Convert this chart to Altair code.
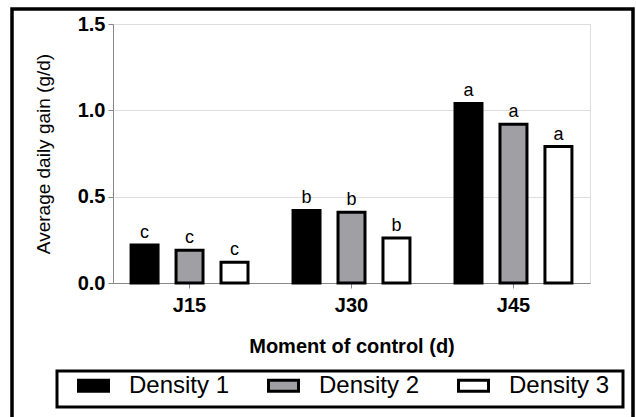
import altair as alt
import pandas as pd

moments = ["J15", "J30", "J45"]
densities = ["Density 1", "Density 2", "Density 3"]
density1 = [0.22, 0.42, 1.04]
density2 = [0.19, 0.41, 0.92]
density3 = [0.12, 0.26, 0.79]
letters1 = ["c", "b", "a"]
letters2 = ["c", "b", "a"]
letters3 = ["c", "b", "a"]
colors = ["#000000", "#a0a0a4", "#ffffff"]

rows = []
for vals, lets, d in [(density1, letters1, densities[0]),
                      (density2, letters2, densities[1]),
                      (density3, letters3, densities[2])]:
    for m, v, l in zip(moments, vals, lets):
        rows.append({"Moment": m, "Density": d, "Gain": v, "Letter": l})
df = pd.DataFrame(rows)

FONT = "Liberation Sans"

x_enc = alt.X("Moment:N", sort=moments,
              scale=alt.Scale(paddingInner=0.167, paddingOuter=0.056),
              axis=alt.Axis(title="Moment of control (d)", labelAngle=0,
                            labelFontSize=20, labelFontWeight="bold",
                            labelPadding=7,
                            titleFontSize=20, titleFontWeight="bold",
                            titleBaseline="alphabetic", titleY=69))
xoff_enc = alt.XOffset("Density:N", sort=densities,
                       scale=alt.Scale(paddingInner=0.4, paddingOuter=0.2))
y_enc = alt.Y("Gain:Q",
              scale=alt.Scale(domain=[0, 1.5], nice=False),
              axis=alt.Axis(title="Average daily gain (g/d)", values=[0, 0.5, 1.0, 1.5],
                            format=".1f", labelFontSize=20, labelFontWeight="bold",
                            labelPadding=3, titleFontSize=19, titleFontWeight="normal",
                            titleX=-70, titleY=129.5, titleBaseline="middle"))

bars = alt.Chart(df).mark_bar(stroke="black", strokeWidth=3).encode(
    x=x_enc, xOffset=xoff_enc, y=y_enc,
    fill=alt.Fill("Density:N", sort=densities,
                  scale=alt.Scale(domain=densities, range=colors),
                  legend=alt.Legend(orient="none", legendX=-36, legendY=345,
                                    direction="horizontal", title=None,
                                    symbolType="M-1,-0.37H1V0.37H-1Z",
                                    symbolSize=900, symbolStrokeColor="black",
                                    symbolStrokeWidth=3, symbolOpacity=1,
                                    labelFont=FONT, labelFontSize=24,
                                    labelColor="black", labelOffset=19,
                                    columnPadding=32, padding=0))
)

text = alt.Chart(df).mark_text(font=FONT, fontSize=18, color="black",
                               baseline="alphabetic", dy=-7).encode(
    x=alt.X("Moment:N", sort=moments), xOffset=alt.XOffset("Density:N", sort=densities),
    y="Gain:Q", text="Letter:N")

one = pd.DataFrame({"k": [0]})
frame = alt.Chart(one).mark_rect(fill=None, stroke="black", strokeWidth=3.5).encode(
    x=alt.value(-101), x2=alt.value(520), y=alt.value(-15), y2=alt.value(430))
legend_box = alt.Chart(one).mark_rect(fill=None, stroke="black", strokeWidth=3).encode(
    x=alt.value(-56), x2=alt.value(510), y=alt.value(347), y2=alt.value(383))

chart = alt.layer(bars, text, frame, legend_box).properties(
    width=477, height=259,
    autosize=alt.AutoSizeParams(type="none"),
    padding={"left": 113, "top": 24, "right": 46, "bottom": 134},
).configure_view(stroke=None).configure_axis(
    grid=False, domainColor="black", domainWidth=2, tickColor="black",
    tickWidth=2, tickSize=10, labelColor="black", titleColor="black",
    labelFont=FONT, titleFont=FONT
).configure(background="white")

chart.save("out.html", embed_options={"renderer": "svg", "actions": False})
